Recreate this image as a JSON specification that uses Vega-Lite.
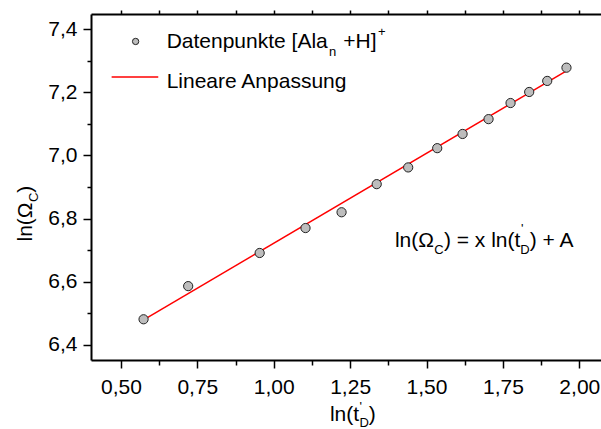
{
  "$schema": "https://vega.github.io/schema/vega-lite/v6.json",
  "width": 510,
  "height": 346,
  "autosize": {"type": "none"},
  "padding": {"left": 91, "top": 14, "right": 0, "bottom": 69},
  "background": "white",
  "config": {"view": {"stroke": null}, "axis": {"grid": false}, "text": {"font": "Liberation Sans"}},
  "resolve": {"axis": {"x": "independent", "y": "independent"}},
  "datasets": {
    "points": [
      {"x": 0.574, "y": 6.481}, {"x": 0.720, "y": 6.586}, {"x": 0.954, "y": 6.691},
      {"x": 1.104, "y": 6.770}, {"x": 1.222, "y": 6.820}, {"x": 1.337, "y": 6.909},
      {"x": 1.440, "y": 6.962}, {"x": 1.535, "y": 7.023}, {"x": 1.618, "y": 7.068},
      {"x": 1.703, "y": 7.115}, {"x": 1.775, "y": 7.166}, {"x": 1.836, "y": 7.201},
      {"x": 1.895, "y": 7.236}, {"x": 1.958, "y": 7.278}
    ],
    "fit": [{"x": 0.574, "y": 6.479}, {"x": 1.958, "y": 7.268}],
    "legendPoint": [{"x": 0.548, "y": 7.361}],
    "legendLine": [{"x": 0.4695, "y": 7.2482}, {"x": 0.6221, "y": 7.2482}],
    "bigText": [
      {"x": 0.6495, "y": 7.3401, "text": "Datenpunkte [Ala"},
      {"x": 1.2274, "y": 7.3401, "text": "+H]"},
      {"x": 0.6495, "y": 7.2134, "text": "Lineare Anpassung"},
      {"x": 1.3966, "y": 6.7096, "text": "ln(Ω"},
      {"x": 1.5569, "y": 6.7096, "text": ") = x ln(t"},
      {"x": 1.8377, "y": 6.7096, "text": ") + A"},
      {"x": 1.1839, "y": 6.1592, "text": "ln(t"},
      {"x": 1.3112, "y": 6.1592, "text": ")"}
    ],
    "smallText": [
      {"x": 1.1806, "y": 7.3135, "text": "n"},
      {"x": 1.3410, "y": 7.3778, "text": "+"},
      {"x": 1.5255, "y": 6.6874, "text": "C"},
      {"x": 1.8089, "y": 6.7549, "text": "'"},
      {"x": 1.8069, "y": 6.6874, "text": "D"},
      {"x": 1.2804, "y": 6.1909, "text": "'"},
      {"x": 1.2804, "y": 6.1386, "text": "D"}
    ],
    "yTitleBig": [
      {"x": 0.2078, "y": 6.7273, "text": "ln(Ω"},
      {"x": 0.2078, "y": 6.8819, "text": ")"}
    ],
    "yTitleSmall": [
      {"x": 0.2271, "y": 6.8522, "text": "C"}
    ]
  },
  "layer": [
    {
      "data": {"name": "fit"},
      "mark": {"type": "line", "color": "#ff0000", "strokeWidth": 1.5},
      "encoding": {
        "x": {"field": "x", "type": "quantitative", "scale": {"domain": [0.402, 2.071], "nice": false, "zero": false},
          "axis": {"orient": "bottom", "title": null, "grid": false,
            "values": [0.5, 0.625, 0.75, 0.875, 1, 1.125, 1.25, 1.375, 1.5, 1.625, 1.75, 1.875, 2],
            "domainColor": "black", "domainWidth": 2, "tickColor": "black", "tickWidth": 1.5,
            "tickSize": {"condition": {"test": "round(datum.value*8)%2==0", "value": 8}, "value": 5},
            "labelExpr": "round(datum.value*8)%2==0 ? replace(format(datum.value, '.2f'), '.', ',') : ''",
            "labelFont": "Liberation Sans", "labelFontSize": 21, "labelColor": "black",
            "labelPadding": 8, "labelFlush": false, "labelOverlap": false}},
        "y": {"field": "y", "type": "quantitative", "scale": {"domain": [6.352, 7.448], "nice": false, "zero": false},
          "axis": {"orient": "left", "title": null, "grid": false,
            "values": [6.4, 6.5, 6.6, 6.7, 6.8, 6.9, 7.0, 7.1, 7.2, 7.3, 7.4],
            "domainColor": "black", "domainWidth": 2, "tickColor": "black", "tickWidth": 1.5,
            "tickSize": {"condition": {"test": "round(datum.value*10)%2==0", "value": 8}, "value": 4},
            "labelExpr": "round(datum.value*10)%2==0 ? replace(format(datum.value, '.1f'), '.', ',') : ''",
            "labelFont": "Liberation Sans", "labelFontSize": 21, "labelColor": "black",
            "labelPadding": 6, "labelFlush": false, "labelOverlap": false}}
      }
    },
    {
      "data": {"name": "points"},
      "mark": {"type": "point", "shape": "circle", "filled": true, "size": 85, "fill": "#bdbdbd", "stroke": "#222222", "strokeWidth": 1, "opacity": 1},
      "encoding": {
        "x": {"field": "x", "type": "quantitative", "scale": {"domain": [0.402, 2.071], "nice": false, "zero": false},
          "axis": {"orient": "top", "title": null, "grid": false, "labels": false,
            "values": [0.5, 0.625, 0.75, 0.875, 1, 1.125, 1.25, 1.375, 1.5, 1.625, 1.75, 1.875, 2],
            "domainColor": "black", "domainWidth": 2, "tickColor": "black", "tickWidth": 1.5, "tickSize": 4}},
        "y": {"field": "y", "type": "quantitative", "scale": {"domain": [6.352, 7.448], "nice": false, "zero": false}, "axis": null}
      }
    },
    {
      "data": {"name": "legendPoint"},
      "mark": {"type": "point", "shape": "circle", "filled": true, "size": 40, "fill": "#bdbdbd", "stroke": "#222222", "strokeWidth": 1, "opacity": 1},
      "encoding": {
        "x": {"field": "x", "type": "quantitative", "scale": {"domain": [0.402, 2.071], "nice": false, "zero": false}, "axis": null},
        "y": {"field": "y", "type": "quantitative", "scale": {"domain": [6.352, 7.448], "nice": false, "zero": false}, "axis": null}
      }
    },
    {
      "data": {"name": "legendLine"},
      "mark": {"type": "line", "color": "#ff0000", "strokeWidth": 1.5},
      "encoding": {
        "x": {"field": "x", "type": "quantitative", "scale": {"domain": [0.402, 2.071], "nice": false, "zero": false}, "axis": null},
        "y": {"field": "y", "type": "quantitative", "scale": {"domain": [6.352, 7.448], "nice": false, "zero": false}, "axis": null}
      }
    },
    {
      "data": {"name": "bigText"},
      "mark": {"type": "text", "align": "left", "baseline": "alphabetic", "font": "Liberation Sans", "fontSize": 21, "color": "black"},
      "encoding": {
        "x": {"field": "x", "type": "quantitative", "scale": {"domain": [0.402, 2.071], "nice": false, "zero": false}, "axis": null},
        "y": {"field": "y", "type": "quantitative", "scale": {"domain": [6.352, 7.448], "nice": false, "zero": false}, "axis": null},
        "text": {"field": "text", "type": "nominal"}
      }
    },
    {
      "data": {"name": "smallText"},
      "mark": {"type": "text", "align": "left", "baseline": "alphabetic", "font": "Liberation Sans", "fontSize": 13, "color": "black"},
      "encoding": {
        "x": {"field": "x", "type": "quantitative", "scale": {"domain": [0.402, 2.071], "nice": false, "zero": false}, "axis": null},
        "y": {"field": "y", "type": "quantitative", "scale": {"domain": [6.352, 7.448], "nice": false, "zero": false}, "axis": null},
        "text": {"field": "text", "type": "nominal"}
      }
    },
    {
      "data": {"name": "yTitleBig"},
      "mark": {"type": "text", "align": "left", "baseline": "alphabetic", "angle": 270, "font": "Liberation Sans", "fontSize": 21, "color": "black"},
      "encoding": {
        "x": {"field": "x", "type": "quantitative", "scale": {"domain": [0.402, 2.071], "nice": false, "zero": false}, "axis": null},
        "y": {"field": "y", "type": "quantitative", "scale": {"domain": [6.352, 7.448], "nice": false, "zero": false}, "axis": null},
        "text": {"field": "text", "type": "nominal"}
      }
    },
    {
      "data": {"name": "yTitleSmall"},
      "mark": {"type": "text", "align": "left", "baseline": "alphabetic", "angle": 270, "font": "Liberation Sans", "fontSize": 13, "color": "black"},
      "encoding": {
        "x": {"field": "x", "type": "quantitative", "scale": {"domain": [0.402, 2.071], "nice": false, "zero": false}, "axis": null},
        "y": {"field": "y", "type": "quantitative", "scale": {"domain": [6.352, 7.448], "nice": false, "zero": false}, "axis": null},
        "text": {"field": "text", "type": "nominal"}
      }
    }
  ]
}
